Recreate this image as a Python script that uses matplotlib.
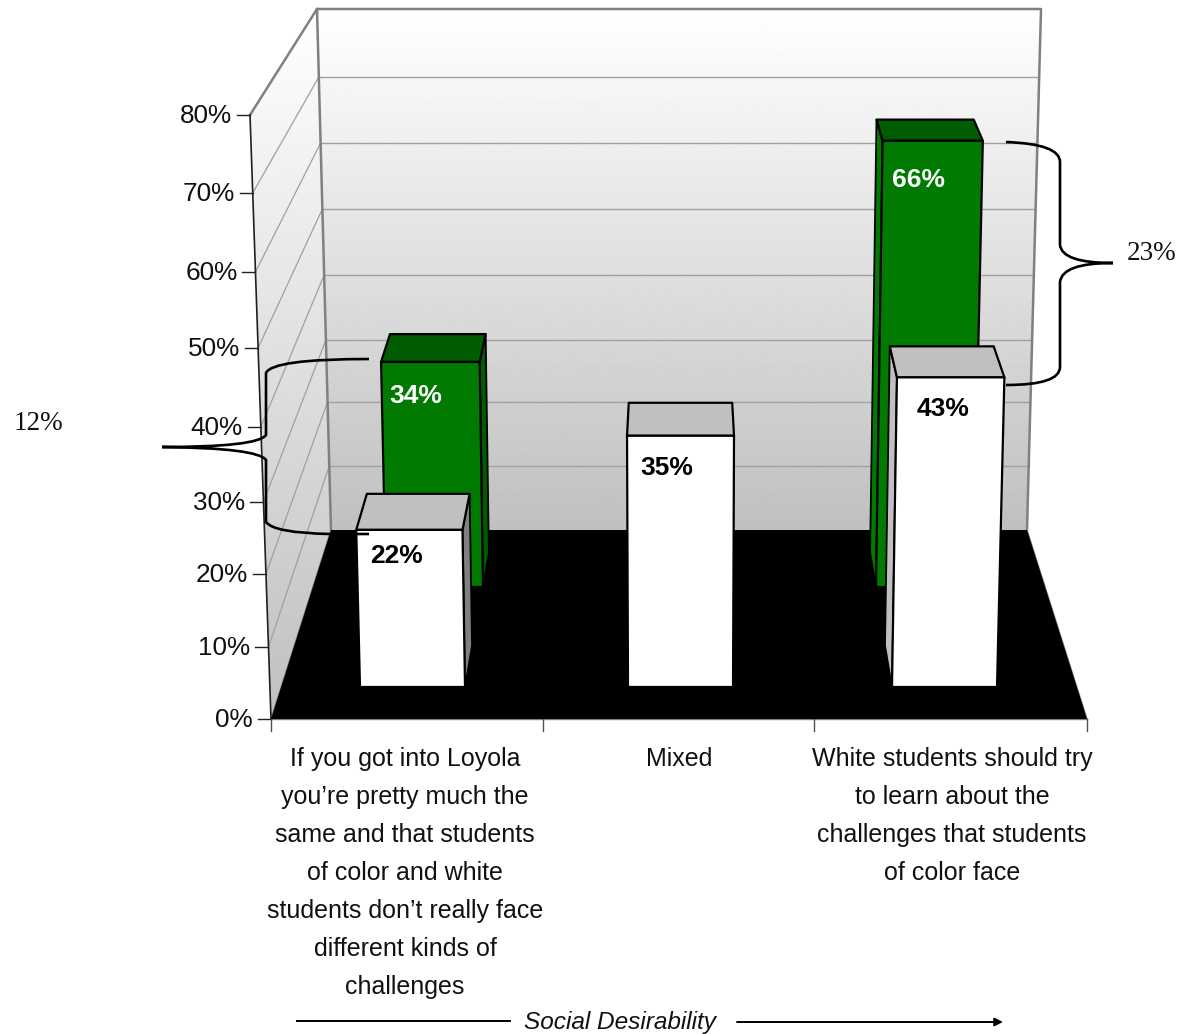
import matplotlib
matplotlib.use('Agg')
import matplotlib.pyplot as plt
import numpy as np
from matplotlib.patches import Polygon, PathPatch
from matplotlib.path import Path

# Chart data
categories = [
    "If you got into Loyola\nyou\u2019re pretty much the\nsame and that students\nof color and white\nstudents don\u2019t really face\ndifferent kinds of\nchallenges",
    "Mixed",
    "White students should try\nto learn about the\nchallenges that students\nof color face",
]
white_values = [22, 35, 43]
green_values = [34, None, 66]
axis_values = [0, 10, 20, 30, 40, 50, 60, 70, 80]
brace_labels = ["12%", "23%"]
axis_title = "Social Desirability"

# Scales of the faked 3D box, in pixels
front_y = [719, 647, 574, 502, 427, 348, 272, 193, 115]
back_y = [530, 466, 402, 340, 275, 209, 143, 77, 9]
VP = np.array([679.0, -566.0])
K = 7.5e-5
CAT_EDGES = [271, 543, 814, 1087]
CAT_CENTERS = [405, 679, 952]
WHITE_BASE = 687
GREEN_BASE = 587
WHITE_LEFT = [360, 628, 892]
GREEN_LEFT = [386, None, 876]
WHITE_W = 105
GREEN_W = 97
WHITE_LABEL_DX = [40, 40, 46]
WHITE_LABEL_DY = [26, 32, 32]
GREEN_LABEL_DX = [35, None, 36]
GREEN_LABEL_DY = [34, None, 39]

fig = plt.figure(figsize=(11.83, 10.34), dpi=100)
ax = fig.add_axes([0, 0, 1, 1])
ax.axis('off')


def to_back(p, t):
    p = np.array(p, dtype=float)
    return p + t * (VP - p)


def spread(x, y_base, y):
    # verticals lean outwards the higher they go
    return VP[0] + (x - VP[0]) * (1 + (y_base - y) * K)


def front_point(v):
    y = np.interp(v, axis_values, front_y)
    x = 271 + (250 - 271) * (719 - y) / (719 - 115)
    return np.array([x, y])


def back_point(v, side):
    y = np.interp(v, axis_values, back_y)
    if side == 'left':
        x = 331 + (317 - 331) * (530 - y) / (530 - 9)
    else:
        x = 1027 + (1041 - 1027) * (530 - y) / (530 - 9)
    return np.array([x, y])


def gradient(poly, y0, y1, top, bottom, z):
    g = np.linspace(top, bottom, 256).reshape(-1, 1)
    im = ax.imshow(g, cmap='gray', vmin=0, vmax=255, extent=[0, 1183, y1, y0],
                   aspect='auto', zorder=z, interpolation='bilinear')
    patch = Polygon(poly, closed=True, transform=ax.transData, fc='none', ec='none')
    ax.add_patch(patch)
    im.set_clip_path(patch)


def draw_bar(left, width, base, value, a, b, t, front, top, side_right, side_left, z):
    h = value * (a + b * value)
    ytop = base - h
    right = left + width
    bl, br = np.array([left, base], float), np.array([right, base], float)
    tl = np.array([spread(left, base, ytop), ytop])
    tr = np.array([spread(right, base, ytop), ytop])
    if right < VP[0]:
        ax.add_patch(Polygon([br, tr, to_back(tr, t), to_back(br, t)], fc=side_right,
                             ec='black', lw=1.3, zorder=z, joinstyle='round'))
    if left > VP[0]:
        ax.add_patch(Polygon([bl, tl, to_back(tl, t), to_back(bl, t)], fc=side_left,
                             ec='black', lw=1.3, zorder=z, joinstyle='round'))
    ax.add_patch(Polygon([tl, tr, to_back(tr, t), to_back(tl, t)], fc=top,
                         ec='black', lw=1.6, zorder=z, joinstyle='round'))
    ax.add_patch(Polygon([bl, tl, tr, br], fc=front, ec='black', lw=1.6, zorder=z + 0.1,
                         joinstyle='round'))
    return tl, tr


# Walls and floor
left_wall = [(271, 719), (250, 115), (317, 9), (331, 530)]
back_wall = [(331, 530), (317, 9), (1041, 9), (1027, 530)]
gradient(back_wall, 9, 530, 255, 192, 1)
gradient(left_wall, 9, 719, 255, 192, 1)
ax.add_patch(Polygon([(271, 719), (1087, 719), (1027, 530), (331, 530)], fc='black',
                     ec='none', zorder=2))

# Grid lines
for v in axis_values[1:-1]:
    a, b = back_point(v, 'left'), back_point(v, 'right')
    ax.plot([a[0], b[0]], [a[1], b[1]], color='#a0a0a0', lw=1, zorder=1.5)
    f = front_point(v)
    ax.plot([f[0], a[0]], [f[1], a[1]], color='#a0a0a0', lw=0.9, zorder=1.5)

# Wall edges
ax.plot([250, 317, 1041, 1027], [115, 9, 9, 530], color='#808080', lw=1.8, zorder=1.6)
ax.plot([317, 331], [9, 530], color='#808080', lw=1.8, zorder=1.6)
ax.plot([331, 271], [530, 719], color='#808080', lw=1, zorder=1.6)
ax.plot([1027, 1087], [530, 719], color='#808080', lw=1, zorder=1.6)
ax.plot([271, 1087], [719, 719], color='#808080', lw=1, zorder=1.6)

# Value axis
ax.plot([271, 250], [719, 115], color='#202020', lw=1.2, zorder=1.7)
for v in axis_values:
    p = front_point(v)
    ax.plot([p[0] - 13, p[0]], [p[1], p[1]], color='#202020', lw=1, zorder=1.7)
    ax.text(p[0] - 18, p[1] + 1, f"{v}%", ha='right', va='center',
            family='Liberation Sans', fontsize=18.8, color='#111111', zorder=5)

# Category ticks and labels
for x in CAT_EDGES:
    ax.plot([x, x], [719, 731], color='#505050', lw=1, zorder=1.7)
for i, label in enumerate(categories):
    ax.text(CAT_CENTERS[i], 747, label, ha='center', va='top', linespacing=1.74,
            family='Liberation Sans', fontsize=18, color='#111111', zorder=5)

# Bars, back row first
for i, v in enumerate(green_values):
    if v is None:
        continue
    tl, tr = draw_bar(GREEN_LEFT[i], GREEN_W, GREEN_BASE, v, 6.47, 0.0044, 0.03,
                      '#007a00', '#005c00', '#005c00', '#007a00', 3)
    ax.text(tl[0] + GREEN_LABEL_DX[i], tl[1] + GREEN_LABEL_DY[i], f"{v}%", ha='center', va='center',
            color='white', family='Liberation Sans', weight='bold', fontsize=19, zorder=4)
for i, v in enumerate(white_values):
    tl, tr = draw_bar(WHITE_LEFT[i], WHITE_W, WHITE_BASE, v, 7.08, 0.0028, 0.0329,
                      'white', '#c0c0c0', '#808080', '#c0c0c0', 6)
    ax.text(tl[0] + WHITE_LABEL_DX[i], tl[1] + WHITE_LABEL_DY[i], f"{v}%", ha='center', va='center',
            color='black', family='Liberation Sans', weight='bold', fontsize=19, zorder=7)


def brace(points):
    verts, codes = [points[0]], [Path.MOVETO]
    for ctrl, end in points[1:]:
        if ctrl is None:
            verts.append(end)
            codes.append(Path.LINETO)
        else:
            verts += [ctrl, end]
            codes += [Path.CURVE3, Path.CURVE3]
    ax.add_patch(PathPatch(Path(verts, codes), fc='none', ec='black', lw=1.9, zorder=8))


# Brackets showing the gap between the two bars
brace([(369, 359), ((272, 359), (266, 373)), (None, (266, 435)),
       ((258, 447), (162, 447)), ((258, 448), (266, 460)), (None, (266, 522)),
       ((274, 533), (330, 534)), (None, (369, 534))])
brace([(1006, 142), ((1060, 144), (1060, 162)), (None, (1060, 245)),
       ((1062, 263), (1113, 263)), ((1062, 263), (1060, 282)), (None, (1060, 367)),
       ((1060, 385), (1006, 385))])
ax.text(38, 423, brace_labels[0], ha='center', va='center', family='Liberation Serif',
        fontsize=19.5, color='#111111')
ax.text(1152, 253, brace_labels[1], ha='center', va='center', family='Liberation Serif',
        fontsize=19.5, color='#111111')

# Direction of the scale under the chart
ax.text(620, 1022, axis_title, ha='center', va='center', style='italic',
        family='Liberation Sans', fontsize=17.6, color='#111111')
ax.plot([297, 510], [1021, 1021], color='black', lw=1.4)
ax.annotate('', xy=(1003, 1022), xytext=(737, 1022),
            arrowprops=dict(arrowstyle='-|>', color='black', lw=1.4, mutation_scale=12,
                            shrinkA=0, shrinkB=0))

ax.set_xlim(0, 1183)
ax.set_ylim(1034, 0)
fig.savefig('out.png', dpi=100, facecolor='white')
